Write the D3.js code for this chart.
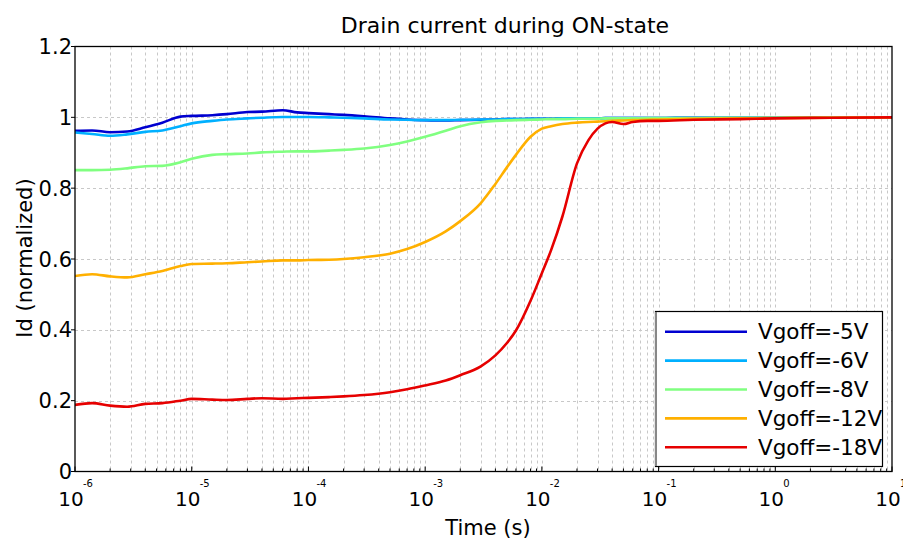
<!DOCTYPE html>
<html><head><meta charset="utf-8">
<script src="https://cdn.jsdelivr.net/npm/d3@7"></script>
<style>body{margin:0;background:#fff;} text{font-family:"DejaVu Sans",sans-serif;fill:#000;}</style>
</head><body>
<svg id="chart" width="903" height="540"></svg>
<script>
const time = [1e-6,1.4e-6,2e-6,2.8e-6,4e-6,5.6e-6,8e-6,1e-5,1.5e-5,2e-5,3e-5,4e-5,6e-5,8e-5,1e-4,1.5e-4,2e-4,3e-4,5e-4,7e-4,1e-3,1.5e-3,2e-3,3e-3,4e-3,5e-3,6e-3,8e-3,1e-2,1.2e-2,1.5e-2,2e-2,2.5e-2,3e-2,3.5e-2,4e-2,5e-2,6e-2,8e-2,1e-1,2e-1,5e-1,1,3,10];
const vgoff5  = [0.962,0.963,0.958,0.960,0.972,0.985,1.002,1.004,1.006,1.009,1.015,1.016,1.020,1.014,1.012,1.009,1.007,1.003,0.997,0.994,0.992,0.991,0.992,0.993,0.994,0.995,0.995,0.996,0.996,0.996,0.997,0.997,0.997,0.997,0.998,0.998,0.998,0.998,0.998,0.998,0.999,0.999,0.999,1.0,1.0];
const vgoff6  = [0.957,0.953,0.948,0.952,0.959,0.963,0.975,0.983,0.990,0.994,0.997,0.999,1.001,1.001,1.001,1.000,0.999,0.997,0.994,0.993,0.992,0.992,0.993,0.994,0.994,0.995,0.995,0.996,0.996,0.996,0.997,0.997,0.997,0.997,0.998,0.998,0.998,0.998,0.998,0.998,0.999,0.999,0.999,1.0,1.0];
const vgoff8  = [0.851,0.851,0.852,0.856,0.862,0.863,0.873,0.883,0.894,0.896,0.898,0.901,0.903,0.904,0.904,0.906,0.908,0.912,0.922,0.932,0.945,0.962,0.975,0.986,0.990,0.991,0.992,0.993,0.994,0.995,0.995,0.996,0.996,0.996,0.997,0.997,0.997,0.997,0.998,0.998,0.998,0.999,0.999,1.0,1.0];
const vgoff12 = [0.552,0.557,0.551,0.548,0.557,0.566,0.580,0.586,0.587,0.588,0.591,0.593,0.596,0.596,0.597,0.598,0.600,0.605,0.615,0.628,0.648,0.678,0.707,0.758,0.812,0.858,0.894,0.945,0.968,0.975,0.981,0.985,0.987,0.988,0.989,0.990,0.991,0.992,0.993,0.994,0.996,0.997,0.998,0.999,1.0];
const vgoff18 = [0.188,0.193,0.186,0.183,0.191,0.193,0.200,0.205,0.203,0.202,0.205,0.207,0.205,0.207,0.208,0.210,0.212,0.216,0.224,0.232,0.243,0.257,0.272,0.297,0.328,0.362,0.398,0.482,0.560,0.625,0.720,0.870,0.935,0.968,0.983,0.987,0.981,0.987,0.990,0.990,0.993,0.995,0.997,0.999,1.0];
const seriesNames = ["Vgoff=-5V","Vgoff=-6V","Vgoff=-8V","Vgoff=-12V","Vgoff=-18V"];
const seriesValues = [vgoff5, vgoff6, vgoff8, vgoff12, vgoff18];
const seriesColors = ["#0000d0","#00b0ff","#80ff80","#ffb000","#e60000"];
const yTicks = [0,0.2,0.4,0.6,0.8,1,1.2];
const yTickLabels = ["0","0.2","0.4","0.6","0.8","1","1.2"];
const xDecades = [-6,-5,-4,-3,-2,-1,0,1];

const svg = d3.select("#chart");
const L = 75, R = 892, T = 46.5, B = 471.5;
const x = d3.scaleLog().domain([1e-6, 10]).range([L, R]);
const y = d3.scaleLinear().domain([0, 1.2]).range([B, T]);

const minorX = [];
for (let d = -6; d < 1; d++) for (let k = 1; k <= 9; k++) minorX.push(k * Math.pow(10, d));
minorX.push(10);

// grid
const grid = svg.append("g").attr("stroke", "#c8c8c8").attr("stroke-width", 1).attr("stroke-dasharray", "3,3");
grid.selectAll("line.vx").data(minorX.filter(v => v > 1e-6 && v < 10)).join("line")
  .attr("x1", d => Math.round(x(d)) + 0.5).attr("x2", d => Math.round(x(d)) + 0.5)
  .attr("y1", T).attr("y2", B);
grid.selectAll("line.hy").data(yTicks.filter(v => v > 0 && v < 1.2)).join("line")
  .attr("x1", L).attr("x2", R)
  .attr("y1", d => Math.round(y(d)) + 0.5).attr("y2", d => Math.round(y(d)) + 0.5);

// lines
svg.append("clipPath").attr("id", "clip").append("rect").attr("x", L).attr("y", T - 2).attr("width", R - L).attr("height", B - T + 2);
const line = d3.line().x(d => x(d[0])).y(d => y(d[1])).curve(d3.curveMonotoneX);
const lg = svg.append("g").attr("clip-path", "url(#clip)");
seriesValues.forEach((vals, i) => {
  lg.append("path").datum(time.map((t, j) => [t, vals[j]]))
    .attr("d", line).attr("fill", "none").attr("stroke", seriesColors[i])
    .attr("stroke-width", 2.6).attr("stroke-linejoin", "round").attr("stroke-linecap", "round");
});

// frame
svg.append("rect").attr("x", L).attr("y", T).attr("width", R - L).attr("height", B - T)
  .attr("fill", "none").attr("stroke", "#000").attr("stroke-width", 1.3);

// ticks
const ax = svg.append("g").attr("stroke", "#000").attr("stroke-width", 1);
ax.selectAll("line.mx").data(minorX).join("line")
  .attr("x1", d => x(d)).attr("x2", d => x(d))
  .attr("y1", B).attr("y2", d => B - (Math.abs(Math.log10(d) - Math.round(Math.log10(d))) < 1e-9 ? 5 : 3));
ax.selectAll("line.my").data(yTicks).join("line")
  .attr("x1", L - 4).attr("x2", L).attr("y1", d => y(d)).attr("y2", d => y(d));

// x tick labels
const xl = svg.append("g");
xDecades.forEach(d => {
  xl.append("text").attr("x", x(Math.pow(10, d)) - 4).attr("y", 506)
    .attr("text-anchor", "middle").attr("font-size", 20).text("10");
  xl.append("text").attr("x", x(Math.pow(10, d)) + 8).attr("y", 487)
    .attr("text-anchor", "start").attr("font-size", 10).text(String(d));
});

// y tick labels
svg.append("g").selectAll("text").data(yTicks).join("text")
  .attr("x", 72).attr("y", d => y(d) + 7.5).attr("text-anchor", "end")
  .attr("font-size", 21).text((d, i) => yTickLabels[i]);

// titles
svg.append("text").attr("x", 505).attr("y", 33).attr("text-anchor", "middle").attr("font-size", 22)
  .text("Drain current during ON-state");
svg.append("text").attr("x", 488).attr("y", 535).attr("text-anchor", "middle").attr("font-size", 21)
  .text("Time (s)");
svg.append("text").attr("transform", "translate(32,258) rotate(-90)").attr("text-anchor", "middle")
  .attr("font-size", 21).text("Id (normalized)");

// legend
const leg = svg.append("g");
leg.append("rect").attr("x", 655.5).attr("y", 311.5).attr("width", 227).attr("height", 155)
  .attr("fill", "#fff").attr("stroke", "#000").attr("stroke-width", 1.2);
leg.append("line").attr("x1", 656).attr("x2", 656).attr("y1", 312).attr("y2", 466)
  .attr("stroke", "#888").attr("stroke-width", 2);
seriesNames.forEach((n, i) => {
  const yy = 331.7 + i * 28.9;
  leg.append("line").attr("x1", 665).attr("x2", 747).attr("y1", yy).attr("y2", yy)
    .attr("stroke", seriesColors[i]).attr("stroke-width", 2.6);
  leg.append("text").attr("x", 758).attr("y", yy + 7.5).attr("font-size", 21.5).text(n);
});
</script>
</body></html>
